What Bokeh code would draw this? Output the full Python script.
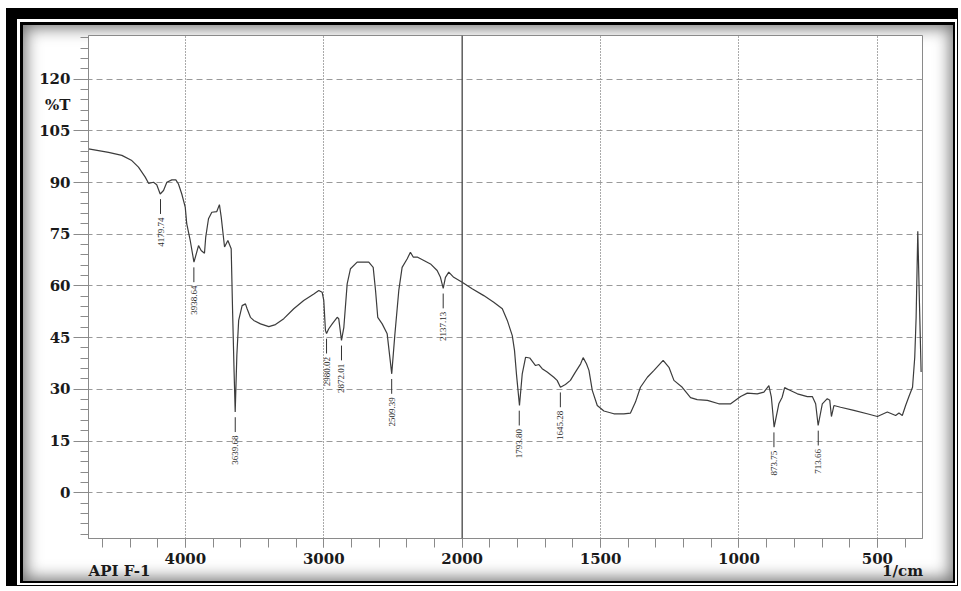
import numpy as np
from bokeh.plotting import figure
from bokeh.models import FixedTicker, Span, ColumnDataSource, Range1d, LinearAxis
from bokeh.core.properties import value
from bokeh.embed import file_html
from bokeh.resources import INLINE

# ---------------- data ----------------
wavenumber = [4700, 4555, 4459, 4387, 4339, 4290, 4266, 4230, 4207, 4182, 4158, 4134,
              4098, 4069, 4050, 4026, 4001, 3990, 3965, 3938, 3905, 3886, 3862, 3853,
              3833, 3809, 3773, 3754, 3741, 3717, 3693, 3669, 3659, 3648, 3640, 3628,
              3615, 3590, 3566, 3554, 3530, 3506, 3457, 3397, 3349, 3289, 3217, 3145,
              3072, 3036, 3012, 3000, 2988, 2980, 2965, 2939, 2903, 2892, 2872, 2855,
              2831, 2807, 2759, 2675, 2643, 2626, 2610, 2578, 2542, 2509, 2486, 2458,
              2434, 2397, 2374, 2354, 2325, 2277, 2229, 2181, 2157, 2137, 2121, 2097,
              2061, 2000, 1964, 1922, 1886, 1855, 1837, 1819, 1811, 1804, 1793, 1783,
              1771, 1756, 1735, 1723, 1711, 1693, 1669, 1657, 1645, 1627, 1609, 1591,
              1572, 1563, 1551, 1542, 1530, 1512, 1488, 1452, 1416, 1392, 1374, 1356,
              1331, 1307, 1274, 1253, 1235, 1205, 1175, 1151, 1114, 1073, 1030, 994,
              970, 934, 910, 892, 883, 873, 856, 844, 835, 820, 789, 753, 735, 723,
              714, 699, 681, 672, 666, 657, 633, 585, 537, 500, 464, 434, 422, 410,
              398, 386, 373, 365, 360, 354, 348, 342]
transmittance = [99.8, 98.8, 97.9, 96.4, 94.5, 91.6, 89.8, 90.1, 89.4, 86.7, 87.7, 90.1,
                 90.8, 90.8, 89.6, 86.7, 82.9, 78.0, 73.2, 66.9, 71.7, 70.3, 69.5, 74.2,
                 79.5, 81.4, 81.6, 83.6, 80.0, 71.3, 73.2, 70.8, 52.9, 35.0, 23.4, 40.0,
                 50.0, 54.3, 54.8, 53.4, 50.9, 50.0, 49.0, 48.2, 48.8, 50.5, 53.4, 55.8,
                 57.7, 58.7, 58.2, 55.8, 47.1, 46.2, 47.5, 49.0, 50.9, 50.5, 44.2, 48.0,
                 60.6, 65.0, 66.9, 66.9, 65.4, 58.7, 50.9, 49.0, 46.1, 34.5, 46.1, 58.7,
                 65.4, 67.9, 69.8, 68.4, 68.4, 67.4, 66.4, 64.5, 62.5, 59.3, 62.5, 64.0,
                 62.5, 61.1, 59.2, 57.2, 55.3, 53.4, 50.0, 45.6, 41.3, 34.5, 25.3, 34.5,
                 39.3, 39.1, 36.9, 37.2, 36.0, 35.0, 33.5, 32.6, 30.6, 31.4, 32.6, 35.0,
                 37.4, 39.2, 37.4, 35.5, 29.7, 25.3, 23.7, 22.9, 22.9, 23.1, 26.3, 30.6,
                 33.5, 35.5, 38.4, 36.4, 32.6, 30.6, 27.6, 27.0, 26.8, 25.8, 25.8, 27.9,
                 28.9, 28.7, 29.2, 31.1, 27.7, 19.0, 25.8, 27.7, 30.5, 29.9, 28.7, 27.9, 27.9, 25.8,
                 19.5, 25.8, 27.3, 26.8, 22.1, 25.3, 24.8, 23.9, 22.9, 22.1, 23.4, 22.4, 23.1, 22.4,
                 25.3, 27.9, 30.6, 39.3, 50.9, 75.9, 55.0, 35.0]

peak_wavenumber = [4179.74, 3938.64, 3639.68, 2980.02, 2872.01, 2509.39, 2137.13,
                   1793.80, 1645.28, 873.75, 713.66]
peak_transmittance = [86.7, 66.9, 23.4, 46.2, 44.2, 34.5, 59.3, 25.3, 30.6, 19.0, 19.5]
peak_labels = ["4179.74", "3938.64", "3639.68", "2980.02", "2872.01", "2509.39",
               "2137.13", "1793.80", "1645.28", "873.75", "713.66"]

x_tick_values = [4000, 3000, 2000, 1500, 1000, 500]
x_grid_values = [4000, 3000, 1500, 1000, 500]
y_tick_values = [0, 15, 30, 45, 60, 75, 90, 105, 120]
x_limits = [4700, 337]
y_limits = [-13.3, 132.7]
y_title = "%T"
y_title_at = 112.5
x_title = "1/cm"
sample_name = "API F-1"
scale_break = 2000


# the instrument draws above 2000 1/cm with half the scale of below
def to_axis(w):
    w = np.asarray(w, dtype=float)
    return np.where(w > scale_break, scale_break + (w - scale_break) / 2.0, w)


u = to_axis(wavenumber)
pu = to_axis(peak_wavenumber)
pt = np.asarray(peak_transmittance)

x_start = float(to_axis(x_limits[0]))
x_end = float(x_limits[1])

W, H = 960, 586
ML, MR, MT, MB = 88, 38, 35, 48

p = figure(width=W, height=H,
           x_range=Range1d(x_start, x_end), y_range=Range1d(*y_limits),
           output_backend="svg", toolbar_location=None,
           min_border_left=ML, min_border_right=MR, min_border_top=MT, min_border_bottom=MB)

p.styles = {
    "background-color": "white",
    "box-shadow": ("inset 2px 4px 0 4px #fff, "
                   "inset 7px 9px 0 10px #000, "
                   "inset 7.5px 9.5px 0 12.5px #fff, "
                   "inset 8px 10px 0 15px #000, "
                   "inset 8px 10px 16px 18px rgba(0,0,0,0.55)"),
}
p.border_fill_alpha = 0
p.background_fill_color = "white"
p.outline_line_color = "#8a8a8a"
p.outline_line_width = 1

# grids
p.xgrid.ticker = FixedTicker(ticks=[float(v) for v in to_axis(x_grid_values)])
p.xgrid.grid_line_color = "#555555"
p.xgrid.grid_line_dash = "1 2"
p.xgrid.grid_line_width = 1
p.ygrid.ticker = FixedTicker(ticks=y_tick_values)
p.ygrid.grid_line_color = "#9a9a9a"
p.ygrid.grid_line_dash = "6 4"
p.ygrid.grid_line_width = 1

p.add_layout(Span(location=scale_break, dimension="height", line_color="#444444", line_width=1.3))

LABEL_FONT = "DejaVu Serif"
LABEL_SIZE = "15px"
LABEL_COLOR = "#1a1a1a"

# ---- bottom axis: ticks + numbers
x_major = [float(v) for v in to_axis(x_tick_values)]
x_minor = list(range(400, int(x_start), 100))
xa = p.xaxis[0]
xa.ticker = FixedTicker(ticks=x_major, minor_ticks=x_minor)
xa.major_label_overrides = {int(m): str(t) for m, t in zip(x_major, x_tick_values)}
xa.major_tick_out = 9
xa.minor_tick_out = 9
xa.major_label_standoff = 5

# ---- second bottom axis carrying the sample name and the unit
px_per_u = (W - ML - MR) / (x_start - x_end)
api_u = int(round(x_start - 31 / px_per_u))
unit_u = int(round(x_end + 20 / px_per_u))
xb = LinearAxis(ticker=FixedTicker(ticks=[api_u, unit_u], minor_ticks=[]),
                major_label_overrides={api_u: sample_name, unit_u: x_title})
xb.axis_line_color = None
xb.major_tick_line_color = None
xb.minor_tick_line_color = None
xb.major_tick_out = 0
xb.major_tick_in = 0
xb.major_label_standoff = -5
p.add_layout(xb, "below")

# ---- left axis: ticks only (inner)
ya = p.yaxis[0]
y_minor = list(range(-12, 133, 3))
ya.ticker = FixedTicker(ticks=y_tick_values, minor_ticks=y_minor)
ya.major_label_overrides = {t: "" for t in y_tick_values}
ya.major_tick_out = 15
ya.minor_tick_out = 8
ya.major_label_standoff = 0

# ---- left axis: numbers and %T (outer)
yb = LinearAxis(ticker=FixedTicker(ticks=y_tick_values + [y_title_at], minor_ticks=[]),
                major_label_overrides={y_title_at: y_title})
yb.axis_line_color = None
yb.major_tick_line_color = None
yb.minor_tick_line_color = None
yb.major_tick_out = 0
yb.major_tick_in = 0
yb.major_label_standoff = 3
p.add_layout(yb, "left")

for ax in (xa, xb, ya, yb):
    ax.major_tick_in = 0
    ax.minor_tick_in = 0
    ax.major_label_text_font = LABEL_FONT
    ax.major_label_text_font_size = LABEL_SIZE
    ax.major_label_text_font_style = "bold"
    ax.major_label_text_color = LABEL_COLOR
for ax in (xa, ya):
    ax.axis_line_color = "#8a8a8a"
    ax.major_tick_line_color = "#8a8a8a"
    ax.minor_tick_line_color = "#8a8a8a"

# spectrum
p.line(u, transmittance, line_color="#3c3c3c", line_width=1.2)

# peak markers and labels
src = ColumnDataSource(dict(x=pu, y0=pt - 1.5, y1=pt - 5.8, ty=pt - 6.8, label=peak_labels))
p.segment(x0="x", y0="y0", x1="x", y1="y1", source=src, line_color="#333333", line_width=1)
p.text(x="x", y="ty", text="label", source=src, angle=np.pi / 2,
       text_align="right", text_baseline="middle",
       text_font=value("Liberation Serif"), text_font_size="9px", text_color="#2a2a2a")

open("out.html", "w").write(file_html(p, INLINE))
